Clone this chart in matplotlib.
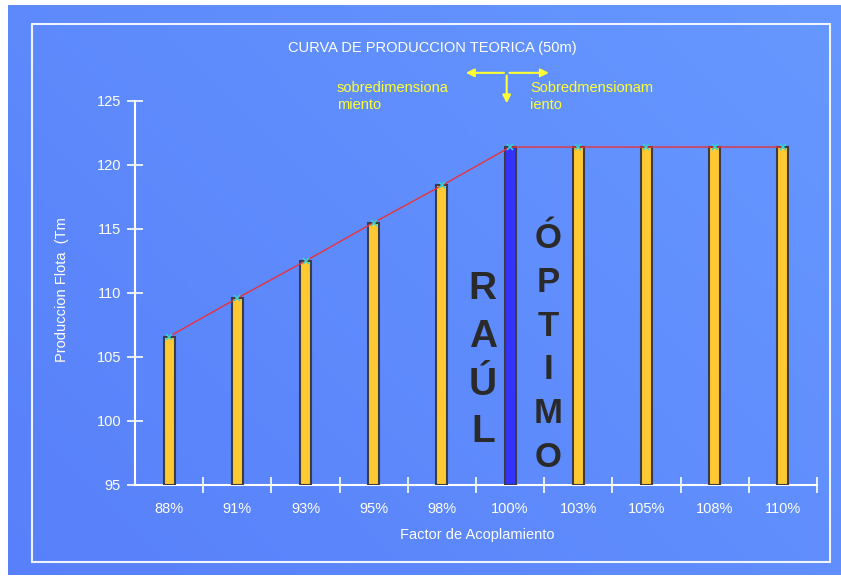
import matplotlib
matplotlib.use("Agg")
import matplotlib.pyplot as plt
import numpy as np
from matplotlib.patches import Rectangle

plt.rcParams['font.family'] = ['Liberation Sans', 'DejaVu Sans']

factores = ['88%', '91%', '93%', '95%', '98%', '100%', '103%', '105%', '108%', '110%']
produccion = [106.6, 109.6, 112.5, 115.5, 118.4, 121.4, 121.4, 121.4, 121.4, 121.4]
optimo = '100%'

fig = plt.figure(figsize=(8.41, 5.77), dpi=100, facecolor='white')

# fondo azul degradado
bg = fig.add_axes([8 / 841, 2 / 577, 833 / 841, 570 / 577])
bg.set_axis_off()
yy, xx = np.mgrid[0:1:200j, 0:1:300j]
t = (0.6 * xx + 0.4 * (1 - yy))
c0 = np.array([88, 128, 250]) / 255.0
c1 = np.array([102, 152, 255]) / 255.0
img = c0[None, None, :] * (1 - t[..., None]) + c1[None, None, :] * t[..., None]
bg.imshow(img, aspect='auto', extent=[0, 1, 0, 1], origin='upper')
bg.set_xlim(0, 1)
bg.set_ylim(0, 1)

# marco blanco
fig.patches.append(Rectangle((32 / 841, 15 / 577), 798 / 841, 538 / 577,
                             transform=fig.transFigure, fill=False,
                             edgecolor='#f0f4ff', linewidth=1.5, zorder=2))

ax = fig.add_axes([135 / 841, 1 - 485 / 577, 682 / 841, 384 / 577])
ax.set_facecolor('none')

x = np.arange(len(factores))
colores = ['#3333ff' if f == optimo else '#ffc933' for f in factores]
ax.bar(x, [p - 95 for p in produccion], bottom=95, width=0.16, color=colores,
       edgecolor='#3c3c46', linewidth=1.5, zorder=3)
ax.plot(x, produccion, color='#e8323c', linewidth=1, zorder=4)
ax.plot(x, produccion, linestyle='none', marker='x', color='#33d6d6',
        markersize=5, markeredgewidth=1.1, zorder=5)

ax.set_xlim(-0.5, 9.5)
ax.set_ylim(95, 125)
ax.set_yticks(range(95, 126, 5))
ax.set_xticks(x + 0.5)
ax.set_xticks(x, minor=True)
ax.set_xticklabels([])
ax.set_xticklabels(factores, minor=True)
ax.tick_params(axis='x', which='minor', length=0, pad=12, labelsize=10.5,
               labelcolor='white')
ax.tick_params(axis='x', which='major', direction='inout', length=12,
               width=1.2, color='white')
ax.tick_params(axis='y', direction='inout', length=12, width=1.2,
               color='white', labelcolor='white', labelsize=10.5, pad=4)
for s in ['top', 'right']:
    ax.spines[s].set_visible(False)
for s in ['left', 'bottom']:
    ax.spines[s].set_color('white')
    ax.spines[s].set_linewidth(1.5)

# textos verticales
ax.text(4.6, 104.7, '\n'.join('RAÚL'), ha='center', va='center',
        fontsize=28, fontweight='bold', color='#2a2a2a', linespacing=1.42,
        zorder=6)
ax.text(5.56, 105.7, '\n'.join('ÓPTIMO'), ha='center', va='center',
        fontsize=25, fontweight='bold', color='#2a2a2a', linespacing=1.42,
        zorder=6)

# flechas
flecha = dict(arrowstyle='-|>', color='#ffff33', lw=1.5, mutation_scale=12)
ax.annotate('', xy=(4.31, 127.2), xytext=(4.95, 127.2), arrowprops=flecha,
            annotation_clip=False)
ax.annotate('', xy=(5.61, 127.2), xytext=(4.95, 127.2), arrowprops=flecha,
            annotation_clip=False)
ax.annotate('', xy=(4.95, 124.6), xytext=(4.95, 127.2), arrowprops=flecha,
            annotation_clip=False)
ax.text(2.46, 126.6, 'sobredimensiona\nmiento', ha='left', va='top',
        color='#ffff33', fontsize=10.5, linespacing=1.35)
ax.text(5.29, 126.6, 'Sobredmensionam\niento', ha='left', va='top',
        color='#ffff33', fontsize=10.5, linespacing=1.35)

fig.text(432 / 841, 1 - 48 / 577, 'CURVA DE PRODUCCION TEORICA (50m)',
         ha='center', va='center', color='white', fontsize=10.5)
fig.text(62 / 841, 1 - 290 / 577, 'Produccion Flota  (Tm', rotation=90,
         ha='center', va='center', color='white', fontsize=10.5)
fig.text(477 / 841, 1 - 535 / 577, 'Factor de Acoplamiento', ha='center',
         va='center', color='white', fontsize=10.5)

fig.savefig('out.png', dpi=100, facecolor='white')
